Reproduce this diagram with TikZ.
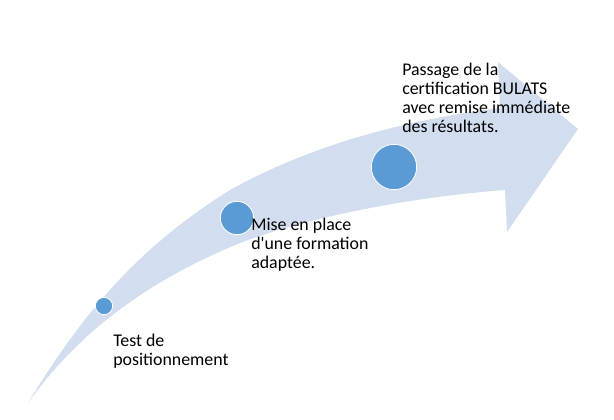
\documentclass[tikz,border=0pt]{standalone}
\usepackage{fontspec}
\setmainfont{Carlito}
\definecolor{bandblue}{RGB}{210,222,239}
\definecolor{dotblue}{RGB}{91,155,213}
\begin{document}
\begin{tikzpicture}[x=0.75pt,y=-0.75pt,
  dot/.style={circle,fill=dotblue,draw=white,line width=0.6pt,inner sep=0pt},
  lbl/.style={inner sep=0pt,align=left,anchor=base west,font=\fontsize{13.4}{14.25}\selectfont,text=black}]
\useasboundingbox (0,0) rectangle (614,419);
\fill[bandblue] (28,403) .. controls (90,300) and (150,240) .. (230,190)
  .. controls (320,140) and (420,118) .. (500,108)
  -- (498,62) -- (578,129) -- (507,232) -- (505,190)
  .. controls (400,198) and (300,220) .. (240,243)
  .. controls (150,280) and (80,330) .. (28,403) -- cycle;
\node[dot,minimum size=13] (d1) at (104,306) {};
\node[dot,minimum size=25] (d2) at (237,218) {};
\node[dot,minimum size=34] (d3) at (394,167) {};
\node[lbl] (t1) at (113,365) {Test de\\positionnement};
\node[lbl] (t2) at (251,268) {Mise en place\\d\textquotesingle une formation\\adaptée.};
\node[lbl] (t3) at (402,132) {Passage de la\\certification BULATS\\avec remise immédiate\\des résultats.};
\end{tikzpicture}
\end{document}
